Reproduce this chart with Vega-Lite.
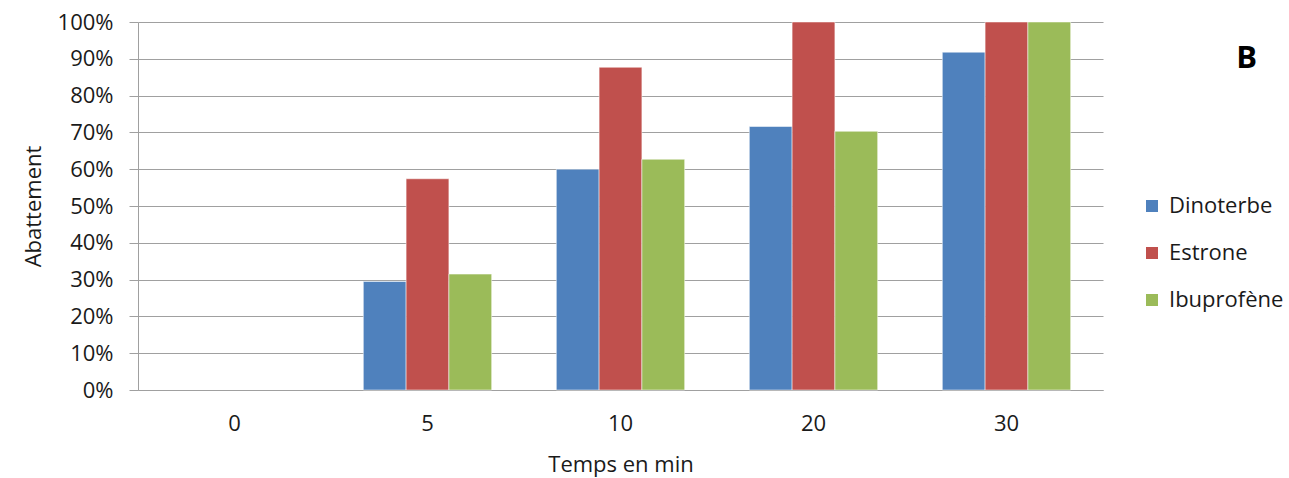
{
  "$schema": "https://vega.github.io/schema/vega-lite/v6.json",
  "width": 965,
  "height": 368,
  "autosize": {"type": "none"},
  "padding": {"left": 138, "top": 22, "right": 186, "bottom": 88},
  "background": "#ffffff",
  "title": {
    "text": "B",
    "anchor": "end",
    "frame": "group",
    "orient": "top",
    "font": "Open Sans",
    "fontSize": 31,
    "fontWeight": "bold",
    "color": "#000000",
    "baseline": "alphabetic",
    "dx": 154,
    "dy": 92
  },
  "data": {
    "values": [
      {"temps": "0", "composé": "Dinoterbe", "abattement": 0},
      {"temps": "0", "composé": "Estrone", "abattement": 0},
      {"temps": "0", "composé": "Ibuprofène", "abattement": 0},
      {"temps": "5", "composé": "Dinoterbe", "abattement": 0.295},
      {"temps": "5", "composé": "Estrone", "abattement": 0.574},
      {"temps": "5", "composé": "Ibuprofène", "abattement": 0.315},
      {"temps": "10", "composé": "Dinoterbe", "abattement": 0.6},
      {"temps": "10", "composé": "Estrone", "abattement": 0.877},
      {"temps": "10", "composé": "Ibuprofène", "abattement": 0.627},
      {"temps": "20", "composé": "Dinoterbe", "abattement": 0.716},
      {"temps": "20", "composé": "Estrone", "abattement": 1.0},
      {"temps": "20", "composé": "Ibuprofène", "abattement": 0.703},
      {"temps": "30", "composé": "Dinoterbe", "abattement": 0.918},
      {"temps": "30", "composé": "Estrone", "abattement": 1.0},
      {"temps": "30", "composé": "Ibuprofène", "abattement": 1.0}
    ]
  },
  "mark": {"type": "bar", "stroke": "#ffffff", "strokeWidth": 1},
  "encoding": {
    "x": {
      "field": "temps",
      "type": "ordinal",
      "sort": ["0", "5", "10", "20", "30"],
      "scale": {"domain": ["0", "5", "10", "20", "30"], "paddingInner": 0.335, "paddingOuter": 0.1675},
      "axis": {
        "title": "Temps en min",
        "labelAngle": 0,
        "ticks": false,
        "labelPadding": 23,
        "titlePadding": 20,
        "domainColor": "#a0a0a0",
        "domainWidth": 1
      }
    },
    "xOffset": {
      "field": "composé",
      "type": "nominal",
      "scale": {"paddingInner": 0, "paddingOuter": 0}
    },
    "y": {
      "field": "abattement",
      "type": "quantitative",
      "scale": {"domain": [0, 1], "nice": false},
      "axis": {
        "title": "Abattement",
        "values": [0, 0.1, 0.2, 0.3, 0.4, 0.5, 0.6, 0.7, 0.8, 0.9, 1.0],
        "format": ".0%",
        "tickSize": 9,
        "tickColor": "#a0a0a0",
        "labelPadding": 16,
        "titlePadding": 12,
        "domainColor": "#a0a0a0",
        "grid": true,
        "gridColor": "#a0a0a0",
        "gridWidth": 1
      }
    },
    "strokeOpacity": {
      "condition": {"test": "datum.abattement > 0", "value": 0.5},
      "value": 0
    },
    "color": {
      "field": "composé",
      "type": "nominal",
      "scale": {
        "domain": ["Dinoterbe", "Estrone", "Ibuprofène"],
        "range": ["#4F81BD", "#C0504D", "#9BBB59"]
      },
      "legend": {
        "title": null,
        "orient": "none",
        "legendX": 1003,
        "legendY": 173,
        "symbolType": "square",
        "symbolSize": 144,
        "symbolStrokeWidth": 0,
        "labelFontSize": 22,
        "labelOffset": 6,
        "rowPadding": 25
      }
    }
  },
  "config": {
    "font": "Open Sans",
    "view": {"stroke": null},
    "axis": {
      "labelFont": "Open Sans",
      "labelFontSize": 22,
      "labelColor": "#1a1a1a",
      "titleFont": "Open Sans",
      "titleFontSize": 22,
      "titleFontWeight": "normal",
      "titleColor": "#1a1a1a"
    },
    "legend": {"labelFont": "Open Sans", "labelColor": "#1a1a1a"}
  }
}
